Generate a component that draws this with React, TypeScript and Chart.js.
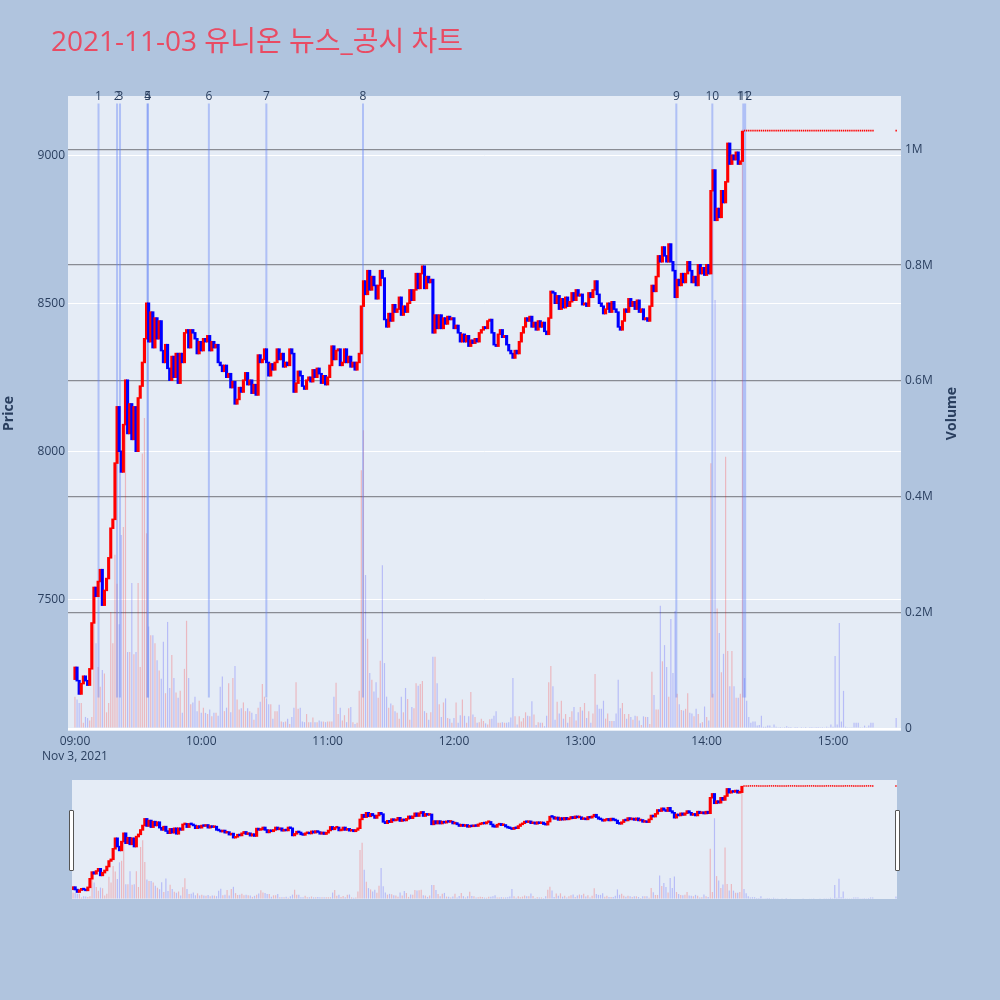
import React, { useEffect, useRef } from 'react';
import { Chart, registerables } from 'chart.js';

Chart.register(...registerables);

// ---------------- data ----------------
const TITLE = '2021-11-03 유니온 뉴스_공시 차트';
const DATE_LABEL = 'Nov 3, 2021';

// 1-minute candles from 09:00 (minute 0). Open of each candle = previous close.
const FIRST_OPEN = 7230;
const CLOSES: number[] = [
  7270, 7225, 7180, 7215, 7240, 7225, 7210, 7265, 7420, 7540,
  7510, 7560, 7600, 7480, 7530, 7570, 7640, 7740, 7770, 7960,
  8150, 8000, 7930, 8090, 8240, 8060, 8160, 8040, 8150, 8000,
  8180, 8220, 8300, 8380, 8500, 8370, 8470, 8350, 8450, 8380,
  8440, 8340, 8300, 8360, 8280, 8240, 8320, 8250, 8330, 8230,
  8330, 8300, 8400, 8410, 8350, 8410, 8400, 8380, 8330, 8370,
  8340, 8380, 8370, 8390, 8340, 8370, 8350, 8360, 8300, 8290,
  8270, 8290, 8250, 8262, 8215, 8235, 8160, 8175, 8215, 8200,
  8240, 8265, 8225, 8240, 8196, 8225, 8190, 8325, 8300, 8310,
  8345, 8300, 8255, 8295, 8275, 8300, 8345, 8310, 8330, 8285,
  8300, 8290, 8345, 8330, 8200, 8230, 8270, 8255, 8220, 8210,
  8240, 8250, 8235, 8275, 8250, 8280, 8262, 8230, 8255, 8225,
  8250, 8290, 8355, 8310, 8340, 8345, 8290, 8300, 8345, 8300,
  8320, 8285, 8300, 8275, 8300, 8330, 8490, 8575, 8530, 8610,
  8545, 8590, 8560, 8515, 8560, 8610, 8585, 8445, 8420, 8465,
  8440, 8495, 8470, 8480, 8520, 8460, 8490, 8470, 8500, 8545,
  8510, 8545, 8600, 8550, 8600, 8625, 8550, 8590, 8570, 8580,
  8400, 8460, 8415, 8460, 8415, 8450, 8430, 8455, 8445, 8450,
  8415, 8425, 8400, 8370, 8395, 8370, 8390, 8355, 8375, 8365,
  8380, 8370, 8400, 8410, 8420, 8415, 8440, 8445, 8400, 8360,
  8355, 8395, 8410, 8385, 8390, 8360, 8340, 8330, 8315, 8340,
  8330, 8370, 8400, 8420, 8450, 8440, 8455, 8420, 8435, 8410,
  8440, 8420, 8435, 8405, 8395, 8450, 8540, 8535, 8500, 8525,
  8480, 8515, 8485, 8520, 8490, 8505, 8535, 8510, 8545, 8525,
  8530, 8495, 8500, 8490, 8535, 8520, 8545, 8575, 8530, 8500,
  8490, 8465, 8480, 8500, 8470, 8505, 8480, 8470, 8420, 8410,
  8440, 8480, 8470, 8515, 8490, 8505, 8480, 8510, 8470, 8480,
  8445, 8450, 8440, 8490, 8560, 8540, 8590, 8660, 8640, 8690,
  8660, 8640, 8700, 8640, 8610, 8520, 8580, 8560, 8600, 8570,
  8600, 8640, 8610, 8570, 8590, 8560, 8630, 8600, 8620, 8595,
  8630, 8600, 8880, 8950, 8780, 8820, 8790, 8880, 8840, 8910,
  9040, 8970, 9000, 8985, 9010, 8970, 8980, 9080,
  // at the upper limit (14:18 - 15:19)
  9080, 9080, 9080, 9080, 9080, 9080, 9080, 9080, 9080, 9080,
  9080, 9080, 9080, 9080, 9080, 9080, 9080, 9080, 9080, 9080,
  9080, 9080, 9080, 9080, 9080, 9080, 9080, 9080, 9080, 9080,
  9080, 9080, 9080, 9080, 9080, 9080, 9080, 9080, 9080, 9080,
  9080, 9080, 9080, 9080, 9080, 9080, 9080, 9080, 9080, 9080,
  9080, 9080, 9080, 9080, 9080, 9080, 9080, 9080, 9080, 9080,
  9080, 9080,
];
const UPPER_LIMIT_FROM = 318; // first minute spent at the upper limit
const CLOSING_AUCTION_MINUTE = 390; // 15:30
const CLOSING_AUCTION_PRICE = 9080;

// volume per minute, thousands of shares
const VOLUME_K: number[] = [
  55, 50, 44, 44, 10, 20, 18, 14, 20, 187,
  147, 106, 72, 101, 95, 28, 44, 201, 147, 300,
  250, 180, 334, 348, 600, 132, 132, 251, 128, 132,
  251, 106, 475, 536, 337, 176, 161, 161, 147, 118,
  100, 86, 150, 61, 184, 70, 127, 87, 62, 53,
  65, 27, 103, 186, 87, 42, 45, 55, 30, 48,
  27, 36, 27, 25, 33, 21, 27, 27, 22, 72,
  90, 30, 36, 78, 28, 87, 108, 50, 33, 35,
  45, 30, 35, 30, 27, 15, 25, 36, 46, 77,
  55, 52, 42, 42, 17, 30, 30, 41, 12, 11,
  12, 17, 8, 20, 36, 80, 34, 36, 12, 11,
  25, 11, 11, 19, 11, 11, 14, 12, 12, 11,
  12, 12, 12, 55, 79, 25, 36, 14, 23, 11,
  35, 37, 11, 8, 10, 65, 446, 515, 265, 155,
  96, 84, 64, 80, 53, 117, 282, 113, 55, 36,
  43, 40, 30, 27, 17, 55, 28, 70, 51, 15,
  37, 35, 78, 74, 77, 82, 30, 27, 15, 28,
  124, 124, 78, 42, 20, 45, 52, 18, 17, 10,
  18, 45, 10, 23, 50, 22, 10, 21, 63, 24,
  20, 10, 11, 17, 13, 9, 7, 16, 17, 22,
  30, 10, 10, 11, 10, 10, 11, 19, 87, 21,
  7, 21, 12, 18, 28, 22, 21, 47, 24, 6,
  11, 10, 10, 4, 22, 80, 108, 73, 15, 46,
  26, 48, 17, 25, 10, 20, 30, 37, 14, 28,
  37, 31, 44, 18, 30, 10, 26, 94, 41, 34,
  34, 48, 17, 26, 13, 13, 13, 26, 84, 35,
  44, 25, 17, 25, 20, 15, 22, 21, 14, 6,
  21, 20, 20, 8, 98, 58, 33, 33, 212, 116,
  144, 106, 55, 189, 96, 203, 60, 42, 32, 31,
  34, 61, 27, 26, 21, 34, 25, 9, 11, 38,
  20, 14, 458, 60, 740, 207, 165, 97, 129, 469,
  134, 73, 134, 73, 53, 53, 60, 1034, 87, 48,
  20, 10, 12, 12, 5, 6, 22, 3, 3, 5,
  5, 2, 7, 3, 2, 1, 2, 1, 4, 1,
  1, 0, 1, 1, 0, 1, 2, 1, 0, 1,
  1, 2, 1, 1, 2, 1, 2, 3, 2, 7,
  3, 125, 7, 182, 12, 65, 3, 2, 2, 2,
  10, 10, 10, 2, 2, 5, 2, 5, 10, 10,
];
const CLOSING_AUCTION_VOLUME_K = 18;

// news / disclosure markers (minutes after 09:00)
const NEWS_LABELS = ['1', '2', '3', '4', '5', '6', '7', '8', '9', '10', '11', '12'];
const NEWS_MINUTES = [11.2, 20.0, 21.4, 34.5, 34.6, 63.6, 90.9, 136.8, 285.6, 302.7, 317.4, 318.3];

const TIME_TICKS = [0, 60, 120, 180, 240, 300, 360];
const TIME_TICK_LABELS = ['09:00', '10:00', '11:00', '12:00', '13:00', '14:00', '15:00'];
const PRICE_TICKS = [7500, 8000, 8500, 9000];
const VOLUME_TICKS_K = [0, 200, 400, 600, 800, 1000];
const VOLUME_TICK_LABELS = ['0', '0.2M', '0.4M', '0.6M', '0.8M', '1M'];

// ---------------- style ----------------
const FONT = '"Open Sans", "Noto Sans CJK KR", sans-serif';
const INK = '#2a3f5f';
const UP = '#ff0000';
const DOWN = '#0000ff';
const UP_VOL = 'rgba(255,0,0,0.22)';
const DOWN_VOL = 'rgba(0,0,255,0.2)';
const NEWS_COLOR = 'rgba(100,130,245,0.42)';
const PLOT_BG = '#e5ecf6';
const PAGE_BG = '#b0c4de';
const PRICE_MIN = 7055;
const PRICE_MAX = 9200;
const VOL_MIN = -4.3;
const VOL_MAX = 1092;
const NEWS_LINE_FROM = 7168;
const NEWS_LINE_TO = 9175;

type FloatBar = { x: number; y: [number, number] };
type Pt = { x: number; y: number };

function buildSeries() {
  const session: FloatBar[] = [];
  const sessionColors: string[] = [];
  const limit: FloatBar[] = [];
  const vol: Pt[] = [];
  const volColors: string[] = [];
  CLOSES.forEach((c, i) => {
    const o = i === 0 ? FIRST_OPEN : CLOSES[i - 1];
    const up = c > o;
    if (i < UPPER_LIMIT_FROM) {
      session.push({ x: i, y: [o, c] });
      sessionColors.push(up ? UP : DOWN);
    } else {
      limit.push({ x: i, y: [o, c] });
    }
    vol.push({ x: i, y: VOLUME_K[i] });
    volColors.push(up ? UP_VOL : DOWN_VOL);
  });
  limit.push({ x: CLOSING_AUCTION_MINUTE, y: [CLOSES[CLOSES.length - 1], CLOSING_AUCTION_PRICE] });
  vol.push({ x: CLOSING_AUCTION_MINUTE, y: CLOSING_AUCTION_VOLUME_K });
  volColors.push(DOWN_VOL);
  const news: FloatBar[] = NEWS_MINUTES.map((m) => ({ x: m, y: [NEWS_LINE_FROM, NEWS_LINE_TO] }));
  return { session, sessionColors, limit, vol, volColors, news };
}

const plotBg = {
  id: 'plotBg',
  beforeDraw(chart: any) {
    const { ctx, chartArea: a } = chart;
    ctx.save();
    ctx.fillStyle = PLOT_BG;
    ctx.fillRect(a.left, a.top, a.right - a.left, a.bottom - a.top);
    ctx.restore();
  },
};

const newsLabels = {
  id: 'newsLabels',
  afterDatasetsDraw(chart: any) {
    const { ctx, chartArea: a, scales } = chart;
    ctx.save();
    ctx.font = `12px ${FONT}`;
    ctx.fillStyle = INK;
    ctx.textAlign = 'center';
    ctx.textBaseline = 'middle';
    NEWS_MINUTES.forEach((m, i) => {
      ctx.fillText(NEWS_LABELS[i], scales.x.getPixelForValue(m), a.top + 0.5);
    });
    ctx.restore();
  },
};

const volumeTitle = {
  id: 'volumeTitle',
  afterDraw(chart: any) {
    const { ctx, chartArea: a } = chart;
    ctx.save();
    ctx.font = `bold 14px ${FONT}`;
    ctx.fillStyle = INK;
    ctx.textAlign = 'center';
    ctx.textBaseline = 'middle';
    ctx.translate(952, (a.top + a.bottom) / 2);
    ctx.rotate(-Math.PI / 2);
    ctx.fillText('Volume', 0, 0);
    ctx.restore();
  },
};

function barSet(extra: any) {
  return { type: 'bar', borderWidth: 0, stack: 'k', grouped: true, inflateAmount: 0, ...extra };
}

export default function App() {
  const mainRef = useRef<HTMLCanvasElement>(null);
  const sliderRef = useRef<HTMLCanvasElement>(null);

  useEffect(() => {
    Chart.defaults.font.family = FONT;
    const s = buildSeries();

    const main = new Chart(mainRef.current as HTMLCanvasElement, {
      type: 'bar',
      data: {
        datasets: [
          barSet({ label: 'Volume', data: s.vol, backgroundColor: s.volColors, barThickness: 1.2, yAxisID: 'y1', order: 3 }),
          barSet({ label: 'News', data: s.news, backgroundColor: NEWS_COLOR, barThickness: 2, yAxisID: 'y', order: 2 }),
          barSet({ label: 'Price', data: s.session, backgroundColor: s.sessionColors, barThickness: 1.6, inflateAmount: 0.75, minBarLength: 1, yAxisID: 'y', order: 1 }),
          barSet({ label: 'Upper limit', data: s.limit, backgroundColor: UP, barThickness: 1.4, minBarLength: 1.8, yAxisID: 'y', order: 1 }),
        ] as any,
      },
      options: {
        responsive: false,
        animation: false,
        devicePixelRatio: 1,
        events: [],
        layout: { padding: { left: 0, right: 40, top: 96, bottom: 0 } },
        plugins: { legend: { display: false }, tooltip: { enabled: false } },
        scales: {
          x: {
            type: 'linear',
            min: -3.3,
            max: 392.3,
            offset: false,
            bounds: 'data',
            grid: { display: false, drawTicks: false },
            border: { display: false },
            afterBuildTicks: (sc: any) => { sc.ticks = TIME_TICKS.map((v) => ({ value: v })); },
            afterFit: (sc: any) => { sc.height = 49; },
            ticks: {
              autoSkip: false,
              maxRotation: 0,
              padding: 3.5,
              color: INK,
              font: { size: 12, lineHeight: 1.25 },
              callback: (v: any) => {
                const i = TIME_TICKS.indexOf(Number(v));
                return i === 0 ? [TIME_TICK_LABELS[i], DATE_LABEL] : TIME_TICK_LABELS[i];
              },
            },
          },
          y: {
            type: 'linear',
            position: 'left',
            min: PRICE_MIN,
            max: PRICE_MAX,
            stacked: false,
            bounds: 'data',
            grid: { color: '#ffffff', lineWidth: 1, drawTicks: false },
            border: { display: false },
            afterBuildTicks: (sc: any) => { sc.ticks = PRICE_TICKS.map((v) => ({ value: v })); },
            afterFit: (sc: any) => { sc.width = 68; },
            title: { display: true, text: 'Price', color: INK, font: { size: 14, weight: 'bold' }, padding: { top: 1, bottom: 0 } },
            ticks: { color: INK, font: { size: 12 }, padding: 3, callback: (v: any) => String(v) },
          },
          y1: {
            type: 'linear',
            position: 'right',
            min: VOL_MIN,
            max: VOL_MAX,
            stacked: false,
            bounds: 'data',
            grid: {
              color: (c: any) => (c.tick && c.tick.value === 0 ? '#ffffff' : 'rgba(105,108,115,0.75)'),
              lineWidth: (c: any) => (c.tick && c.tick.value === 0 ? 2 : 1.3),
              drawTicks: false,
            },
            border: { display: false },
            afterBuildTicks: (sc: any) => { sc.ticks = VOLUME_TICKS_K.map((v) => ({ value: v })); },
            afterFit: (sc: any) => { sc.width = 59; },
            ticks: {
              color: INK,
              font: { size: 12 },
              padding: 4,
              callback: (v: any) => VOLUME_TICK_LABELS[VOLUME_TICKS_K.indexOf(Number(v))],
            },
          },
        },
      } as any,
      plugins: [plotBg, newsLabels, volumeTitle],
    });

    const slider = new Chart(sliderRef.current as HTMLCanvasElement, {
      type: 'bar',
      data: {
        datasets: [
          barSet({ data: s.vol, backgroundColor: s.volColors, barThickness: 1.2, yAxisID: 'y1', order: 3 }),
          barSet({ data: s.session, backgroundColor: s.sessionColors, barThickness: 1.6, inflateAmount: 0.75, minBarLength: 1, yAxisID: 'y', order: 1 }),
          barSet({ data: s.limit, backgroundColor: UP, barThickness: 1.4, minBarLength: 1.5, yAxisID: 'y', order: 1 }),
        ] as any,
      },
      options: {
        responsive: false,
        animation: false,
        devicePixelRatio: 1,
        events: [],
        layout: { padding: { left: 72, right: 103, top: 0, bottom: 1 } },
        plugins: { legend: { display: false }, tooltip: { enabled: false } },
        scales: {
          x: { type: 'linear', display: false, min: -0.5, max: 390.5, offset: false, bounds: 'data' },
          y: { type: 'linear', display: false, min: PRICE_MIN, max: PRICE_MAX, stacked: false, bounds: 'data' },
          y1: { type: 'linear', display: false, position: 'right', min: VOL_MIN, max: VOL_MAX, stacked: false, bounds: 'data' },
        },
      } as any,
      plugins: [plotBg],
    });

    return () => {
      main.destroy();
      slider.destroy();
    };
  }, []);

  const handle: React.CSSProperties = {
    position: 'absolute',
    top: 810,
    width: 3,
    height: 59,
    background: '#ffffff',
    border: '1px solid #555',
    borderRadius: 1,
  };

  return (
    <div style={{ position: 'fixed', left: 0, top: 0, width: 1000, height: 1000, background: PAGE_BG, overflow: 'hidden' }}>
      <canvas ref={mainRef} width={1000} height={780} style={{ position: 'absolute', left: 0, top: 0, width: 1000, height: 780 }} />
      <canvas ref={sliderRef} width={1000} height={120} style={{ position: 'absolute', left: 0, top: 780, width: 1000, height: 120 }} />
      <div style={{ ...handle, left: 69 }} />
      <div style={{ ...handle, left: 895 }} />
      <div
        style={{
          position: 'absolute',
          left: 51,
          top: 26,
          fontFamily: FONT,
          fontSize: 28,
          lineHeight: '28px',
          color: '#e94b63',
          whiteSpace: 'nowrap',
        }}
      >
        {TITLE}
      </div>
    </div>
  );
}
